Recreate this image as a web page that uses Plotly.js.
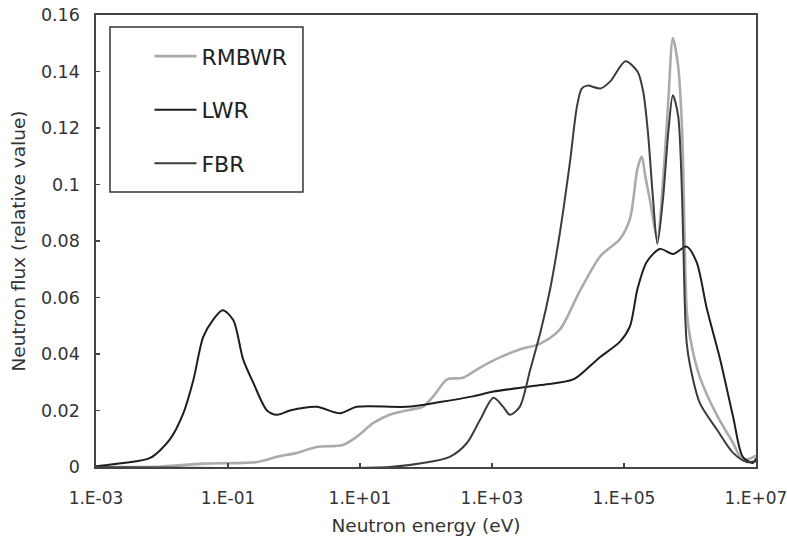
<!DOCTYPE html>
<html>
<head>
<meta charset="utf-8">
<script src="https://cdn.plot.ly/plotly-3.0.1.min.js"></script>
<style>html,body{margin:0;padding:0;background:#fff;}#chart{width:787px;height:545px;}</style>
</head>
<body>
<div id="chart"></div>
<script>
// Neutron energy (eV) and relative flux values
var rmbwrE = [1e-3, 1e-2, 4.2e-2, 0.28, 0.55, 1.1, 2.2, 5.5, 8.9, 16, 28, 58, 89, 129, 209, 363, 660, 1320, 2630, 5400,
  1.07e4, 2.1e4, 4.4e4, 8.7e4, 1.23e5, 1.6e5, 1.86e5, 2.1e5, 2.45e5, 3.2e5, 4.0e5, 4.7e5, 5.5e5, 6.6e5, 7.6e5, 8.3e5,
  8.9e5, 1.0e6, 1.4e6, 2.6e6, 4.5e6, 6.3e6, 1e7];
var rmbwrFlux = [0, 0.0002, 0.0012, 0.0018, 0.0036, 0.005, 0.0071, 0.0078, 0.0107, 0.0156, 0.0185, 0.0203, 0.0213, 0.025, 0.031, 0.0316, 0.0352, 0.0388, 0.0416, 0.0437,
  0.0487, 0.0619, 0.0747, 0.0807, 0.0878, 0.1056, 0.1099, 0.103, 0.095, 0.081, 0.105, 0.130, 0.1518, 0.142, 0.119, 0.08,
  0.056, 0.046, 0.032, 0.018, 0.0085, 0.0025, 0.004];

var lwrE = [1e-3, 2.6e-3, 6.6e-3, 1.3e-2, 2.1e-2, 3.0e-2, 4.2e-2, 5.9e-2, 8.3e-2, 0.12, 0.17, 0.24, 0.39, 0.55, 0.87, 2.2, 5.0, 8.9,
  51, 162, 513, 1050, 5400, 1.7e4, 3.0e4, 4.4e4, 8.7e4, 1.23e5, 1.6e5, 2.2e5, 3.5e5, 5.5e5, 8.9e5, 1.26e6, 1.8e6, 2.8e6, 4.5e6, 6.3e6, 8.9e6, 1e7];
var lwrFlux = [0.0003, 0.0014, 0.0032, 0.0096, 0.019, 0.031, 0.046, 0.052, 0.0555, 0.052, 0.038, 0.030, 0.020, 0.0185, 0.020, 0.0213, 0.019, 0.0213,
  0.0213, 0.023, 0.025, 0.0267, 0.029, 0.031, 0.0356, 0.039, 0.0444, 0.0498, 0.063, 0.0725, 0.0772, 0.0754, 0.078, 0.0725, 0.056, 0.039, 0.0178, 0.0036, 0.0014, 0.003];

var fbrE = [1e-3, 28, 89, 229, 417, 660, 1050, 1480, 1860, 2630, 3800, 5400, 7600, 1.07e4, 1.5e4, 1.95e4, 2.3e4, 2.8e4, 4.4e4, 6.2e4,
  1.05e5, 1.6e5, 1.95e5, 2.3e5, 2.75e5, 3.2e5, 3.9e5, 4.7e5, 5.5e5, 6.6e5, 7.6e5, 8.3e5, 8.9e5, 1.0e6, 1.4e6, 2.6e6, 4.5e6, 7.2e6, 1e7];
var fbrFlux = [0, 0, 0.0014, 0.0036, 0.0085, 0.0167, 0.0245, 0.0213, 0.0185, 0.0213, 0.0345, 0.0476, 0.063, 0.083, 0.107, 0.128, 0.134, 0.135, 0.134, 0.1365,
  0.1436, 0.140, 0.133, 0.1187, 0.095, 0.079, 0.095, 0.1187, 0.1316, 0.1245, 0.095, 0.059, 0.044, 0.036, 0.0228, 0.013, 0.005, 0.0018, 0.002];

var xTickVals = [1e-3, 1e-1, 1e1, 1e3, 1e5, 1e7];
var xTickText = ['1.E-03', '1.E-01', '1.E+01', '1.E+03', '1.E+05', '1.E+07'];
var seriesNames = ['RMBWR', 'LWR', 'FBR'];

var font = '"DejaVu Sans", Verdana, sans-serif';
var traces = [
  {x: rmbwrE, y: rmbwrFlux, name: seriesNames[0], legendgroup: 'a', mode: 'lines',
   line: {color: '#ababab', width: 2.6, shape: 'spline', smoothing: 0.8}},
  {x: lwrE, y: lwrFlux, name: seriesNames[1], legendgroup: 'b', mode: 'lines',
   line: {color: '#1e1e1e', width: 2, shape: 'spline', smoothing: 0.8}},
  {x: fbrE, y: fbrFlux, name: seriesNames[2], legendgroup: 'c', mode: 'lines',
   line: {color: '#3c3c3c', width: 2, shape: 'spline', smoothing: 0.8}}
];

var layout = {
  width: 787, height: 545,
  margin: {l: 96, r: 31, t: 15, b: 78},
  paper_bgcolor: '#fff', plot_bgcolor: '#fff',
  font: {family: font, color: '#333'},
  xaxis: {
    type: 'log', range: [-3, 7], tickvals: xTickVals, ticktext: xTickText,
    ticks: 'inside', ticklen: 4, tickcolor: '#444', tickwidth: 1.5,
    showline: true, linecolor: '#444', linewidth: 1.6, mirror: true,
    showgrid: false, zeroline: false, automargin: false,
    ticklabelstandoff: 15, ticklabeloverflow: 'allow',
    tickfont: {family: font, size: 17, color: '#333'},
    title: {text: 'Neutron energy (eV)', font: {family: font, size: 18.5, color: '#333'}, standoff: 12}
  },
  yaxis: {
    range: [0, 0.16], dtick: 0.02, tick0: 0,
    ticks: 'inside', ticklen: 4, tickcolor: '#444', tickwidth: 1.5,
    showline: true, linecolor: '#444', linewidth: 1.6, mirror: true,
    showgrid: false, zeroline: false, automargin: false,
    ticklabelstandoff: 11, ticklabeloverflow: 'allow',
    tickfont: {family: font, size: 17.5, color: '#333'},
    title: {text: 'Neutron flux (relative value)', font: {family: font, size: 18.5, color: '#333'}, standoff: 10}
  },
  showlegend: true,
  legend: {
    x: 0.081, y: 0.955, xanchor: 'left', yanchor: 'top',
    bgcolor: 'rgba(0,0,0,0)', borderwidth: 0,
    font: {family: font, size: 22, color: '#222'},
    traceorder: 'grouped', tracegroupgap: 22, itemwidth: 42
  },
  shapes: [{
    type: 'rect', xref: 'paper', yref: 'paper',
    x0: 0.0212, x1: 0.3136, y0: 0.6084, y1: 0.9735,
    line: {color: '#333', width: 1.5}, fillcolor: 'rgba(0,0,0,0)'
  }]
};

Plotly.newPlot('chart', traces, layout, {displayModeBar: false, staticPlot: true});
</script>
</body>
</html>
